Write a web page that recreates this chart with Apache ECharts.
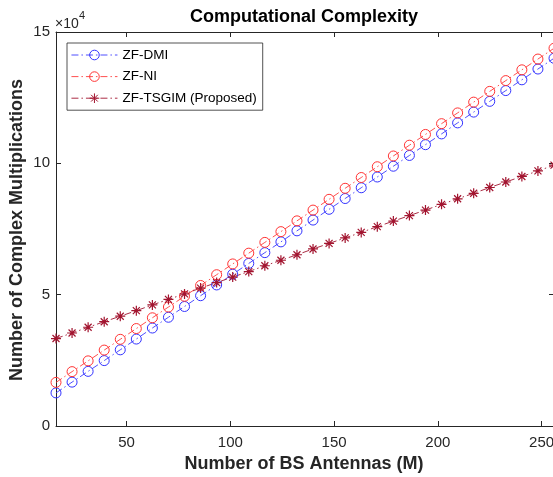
<!DOCTYPE html>
<html>
<head>
<meta charset="utf-8">
<script src="https://cdn.jsdelivr.net/npm/echarts@6/dist/echarts.min.js"></script>
<style>html,body{margin:0;padding:0;background:#fff;}#c{width:553px;height:477px;}</style>
</head>
<body>
<div id="c"></div>
<script>
// Number of BS antennas (M)
var antennas = [16, 23.74, 31.48, 39.23, 46.97, 54.71, 62.45, 70.19, 77.94, 85.68, 93.42, 101.16, 108.90, 116.65, 124.39, 132.13, 139.87, 147.61, 155.35, 163.10, 170.84, 178.58, 186.32, 194.06, 201.81, 209.55, 217.29, 225.03, 232.77, 240.52, 248.26, 256];
// Complex multiplications, in units of 10^4
var zfDMI = [1.26, 1.67, 2.08, 2.49, 2.90, 3.31, 3.73, 4.14, 4.55, 4.96, 5.37, 5.78, 6.19, 6.60, 7.01, 7.43, 7.84, 8.25, 8.66, 9.07, 9.48, 9.89, 10.30, 10.71, 11.12, 11.54, 11.95, 12.36, 12.77, 13.18, 13.59, 14.00];
var zfNI = [1.66, 2.07, 2.48, 2.89, 3.30, 3.71, 4.12, 4.53, 4.94, 5.35, 5.76, 6.17, 6.58, 6.99, 7.40, 7.81, 8.22, 8.63, 9.05, 9.46, 9.87, 10.28, 10.69, 11.10, 11.51, 11.92, 12.33, 12.74, 13.15, 13.56, 13.97, 14.38];
var zfTSGIM = [3.33, 3.54, 3.76, 3.97, 4.18, 4.39, 4.61, 4.82, 5.03, 5.25, 5.46, 5.67, 5.88, 6.10, 6.31, 6.52, 6.74, 6.95, 7.16, 7.37, 7.59, 7.80, 8.01, 8.22, 8.44, 8.65, 8.86, 9.08, 9.29, 9.50, 9.71, 9.93];
var seriesNames = ['ZF-DMI', 'ZF-NI', 'ZF-TSGIM (Proposed)'];
var xTicks = [50, 100, 150, 200, 250];
var yTicks = [0, 5, 10, 15];

var FONT = '"Liberation Sans", Arial, Helvetica, sans-serif';
var AX = '#262626';
function pairs(ys) { return ys.map(function (v, i) { return [antennas[i], v]; }); }
var dashDot = [7, 3, 1.5, 3];
var asterisk = 'path://M0,-10L0,10M-10,0L10,0M-7,-7L7,7M-7,7L7,-7';

var chart = echarts.init(document.getElementById('c'), null, {renderer: 'canvas'});
var baseAxisX = {
  type: 'value', min: 16, max: 256,
  axisLine: {show: true, onZero: false, lineStyle: {color: AX, width: 1}},
  axisTick: {show: true, inside: true, length: 5, customValues: xTicks, lineStyle: {color: AX}},
  splitLine: {show: false}
};
var baseAxisY = {
  type: 'value', min: 0, max: 15, interval: 5,
  axisLine: {show: true, onZero: false, lineStyle: {color: AX, width: 1}},
  axisTick: {show: true, inside: true, length: 5, lineStyle: {color: AX}},
  splitLine: {show: false}
};
chart.setOption({
  animation: false,
  backgroundColor: '#fff',
  grid: {left: 56, top: 32, width: 498, height: 394, containLabel: false, outerBoundsMode: 'none'},
  xAxis: [
    Object.assign({}, baseAxisX, {position: 'bottom',
      axisLabel: {show: true, customValues: xTicks, color: AX, fontSize: 15, fontFamily: FONT, margin: 9}}),
    Object.assign({}, baseAxisX, {position: 'top', axisLabel: {show: false}})
  ],
  yAxis: [
    Object.assign({}, baseAxisY, {position: 'left',
      axisLabel: {show: true, color: AX, fontSize: 15, fontFamily: FONT, margin: 6}}),
    Object.assign({}, baseAxisY, {position: 'right', axisLabel: {show: false}})
  ],
  legend: {
    orient: 'vertical', left: 67, top: 43,
    data: seriesNames,
    backgroundColor: '#fff', borderColor: AX, borderWidth: 0.8, borderRadius: 0,
    padding: [5, 6, 5, 4], itemGap: 7.6, itemWidth: 46, itemHeight: 12,
    itemStyle: {borderWidth: 1},
    lineStyle: {width: 0.9},
    textStyle: {fontSize: 13.5, fontFamily: FONT, color: '#000'}
  },
  series: [
    {name: seriesNames[0], type: 'line', data: pairs(zfDMI), symbol: 'circle', symbolSize: 10,
      lineStyle: {color: '#3b3bff', width: 0.9, type: dashDot},
      itemStyle: {color: 'rgba(0,0,0,0)', borderColor: '#3333ff', borderWidth: 1}, z: 3},
    {name: seriesNames[1], type: 'line', data: pairs(zfNI), symbol: 'circle', symbolSize: 10,
      lineStyle: {color: '#ff3b3b', width: 0.9, type: dashDot},
      itemStyle: {color: 'rgba(0,0,0,0)', borderColor: '#ff3333', borderWidth: 1}, z: 3},
    {name: seriesNames[2], type: 'line', data: pairs(zfTSGIM), symbol: asterisk, symbolSize: 10,
      lineStyle: {color: '#a2142f', width: 0.9, type: dashDot},
      itemStyle: {color: 'rgba(0,0,0,0)', borderColor: '#a2142f', borderWidth: 1.2}, z: 3}
  ],
  graphic: [
    {type: 'text', x: 304, y: 17, style: {text: 'Computational Complexity', font: 'bold 18px ' + FONT, fill: '#000', align: 'center', verticalAlign: 'middle', textAlign: 'center', textVerticalAlign: 'middle'}},
    {type: 'text', x: 304, y: 464, style: {text: 'Number of BS Antennas (M)', font: 'bold 18px ' + FONT, fill: AX, align: 'center', verticalAlign: 'middle', textAlign: 'center', textVerticalAlign: 'middle'}},
    {type: 'text', x: 17, y: 230, rotation: Math.PI / 2, style: {text: 'Number of Complex Multiplications', font: 'bold 18px ' + FONT, fill: AX, align: 'center', verticalAlign: 'middle', textAlign: 'center', textVerticalAlign: 'middle'}},
    {type: 'text', x: 55, y: 24, style: {text: '\u00d710', font: '14px ' + FONT, fill: AX, align: 'left', verticalAlign: 'middle', textAlign: 'left', textVerticalAlign: 'middle'}},
    {type: 'text', x: 79, y: 16, style: {text: '4', font: '11px ' + FONT, fill: AX, align: 'left', verticalAlign: 'middle', textAlign: 'left', textVerticalAlign: 'middle'}}
  ]
});
</script>
</body>
</html>
